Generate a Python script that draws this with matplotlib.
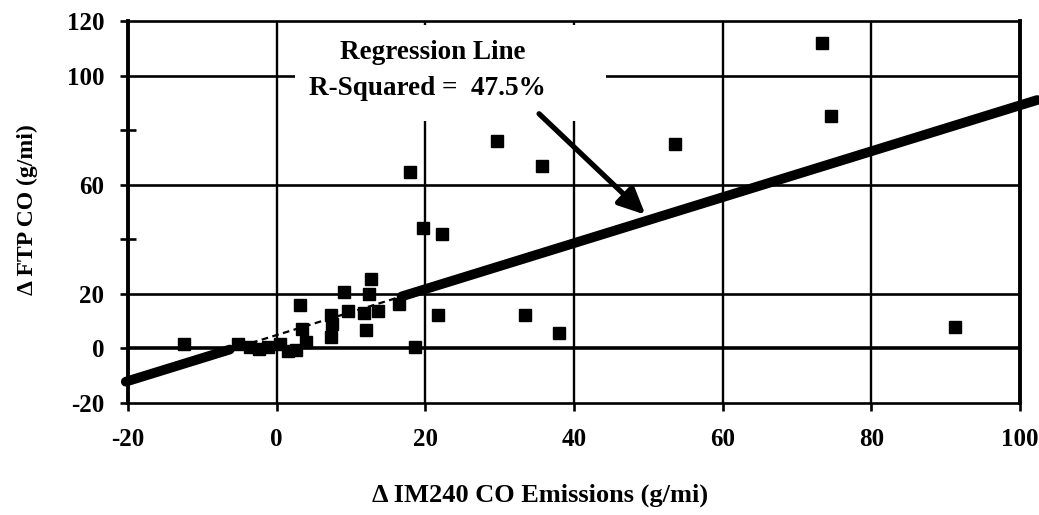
import matplotlib
matplotlib.use("Agg")
import matplotlib.pyplot as plt
import numpy as np
from matplotlib.patches import Rectangle

# ---- data ----
im240_co = [-12.4, -5.2, -3.6, -2.4, -1.2, 0.5, 1.5, 2.6, 3.1, 3.4, 3.9,
            7.3, 7.5, 7.3, 9.1, 9.6, 11.7, 12.4, 12.7, 12.0, 13.6, 16.4,
            18.6, 21.7, 19.7, 22.3, 17.9, 29.7, 35.7, 33.4, 38.0, 53.6,
            73.3, 74.6, 91.3]
ftp_co = [1.8, 1.7, 0.5, -0.1, 0.5, 1.5, -0.8, -0.5, 16.0, 7.2, 2.2,
          12.4, 8.8, 4.1, 20.6, 13.9, 13.0, 20.0, 25.3, 6.6, 13.7, 16.1,
          0.5, 12.1, 44.0, 42.1, 64.5, 76.2, 67.0, 12.1, 5.5, 75.1,
          112.0, 85.3, 7.7]
reg_slope = 0.842
reg_intercept = 4.9
r_squared = 47.5

x_ticks = [-20, 0, 20, 40, 60, 80, 100]
y_ticks = [-20, 0, 20, 60, 100, 120]
y_minor = [40, 80]
x_label = "\u0394 IM240 CO Emissions (g/mi)"
y_label = "\u0394 FTP CO (g/mi)"

plt.rcParams['font.family'] = ['Liberation Serif', 'DejaVu Serif']
plt.rcParams['font.weight'] = 'bold'

fig = plt.figure(figsize=(10.39, 5.15), dpi=100)
ax = fig.add_axes([128/1039, 1-403/515, (1020-128)/1039, (403-21)/515])
ax.set_xlim(-20, 100)
ax.set_ylim(-20, 120)

# grid lines
for xv in [0, 20, 40, 60, 80]:
    ax.axvline(xv, color='black', lw=1.7, zorder=1)
for yv in [0, 20, 60, 100]:
    ax.axhline(yv, color='black', lw=1.9 if yv != 0 else 2.6, zorder=1)

# white mask behind annotation text
ax.add_patch(Rectangle((2.4, 83.5), 41.9, 35.2, facecolor='white',
                       edgecolor='none', zorder=2))

# regression line (thick, thin dashed through the cluster)
def reg(x):
    return reg_intercept + reg_slope * np.asarray(x)

seg1 = np.array([-20.3, -6.3])
seg2 = np.array([-6.3, 16.8])
seg3 = np.array([16.8, 102.3])
ax.plot(seg1, reg(seg1), color='black', lw=7, solid_capstyle='round',
        zorder=3, clip_on=False)
ax.plot(seg2, reg(seg2), color='black', lw=1.6, ls=(0, (3, 2)), zorder=3)
ax.plot(seg3, reg(seg3), color='black', lw=7, solid_capstyle='round',
        zorder=3, clip_on=False)

# scatter points
ax.plot(im240_co, ftp_co, ls='none', marker='s', ms=8.5, color='black',
        zorder=4)

# annotation
ax.text(21.0, 108.4, "Regression Line", ha='center', va='center',
        fontsize=19.5, fontweight='bold', zorder=5)
ax.text(20.3, 95.2, f"R-Squared =  {r_squared}%", ha='center', va='center',
        fontsize=19.5, fontweight='bold', zorder=5)
ax.annotate("", xy=(49.6, 49.0), xytext=(35.3, 86.0),
            arrowprops=dict(arrowstyle='-|>,head_length=1.6,head_width=0.75',
                            color='black', lw=3.8, shrinkA=0, shrinkB=0),
            zorder=5)

# axes / ticks
ax.set_xticks(x_ticks)
ax.set_yticks(y_ticks)
ax.set_yticks(y_minor, minor=True)
ax.set_xticklabels([str(v) for v in x_ticks], fontsize=18, fontweight='bold')
ax.set_yticklabels([str(v) for v in y_ticks], fontsize=18, fontweight='bold')
ax.tick_params(axis='both', which='major', direction='out', length=6,
               width=1.9, pad=11, color='black')
ax.tick_params(axis='y', which='minor', direction='inout', length=12,
               width=1.9)
ax.tick_params(axis='x', which='major', pad=12)

ax.spines['left'].set_linewidth(2.8)
ax.spines['right'].set_linewidth(2.8)
ax.spines['top'].set_linewidth(1.9)
ax.spines['bottom'].set_linewidth(1.9)

ax.set_xlabel(x_label, fontsize=19, fontweight='bold')
ax.xaxis.set_label_coords((540-128)/892, -(495-403)/382)
ax.set_ylabel(y_label, fontsize=17, fontweight='bold')
ax.yaxis.set_label_coords(-(128-27)/892, (403-210)/382)
ax.xaxis.label.set_va('center')
ax.yaxis.label.set_va('center')

fig.savefig("out.png", dpi=100, facecolor='white')
